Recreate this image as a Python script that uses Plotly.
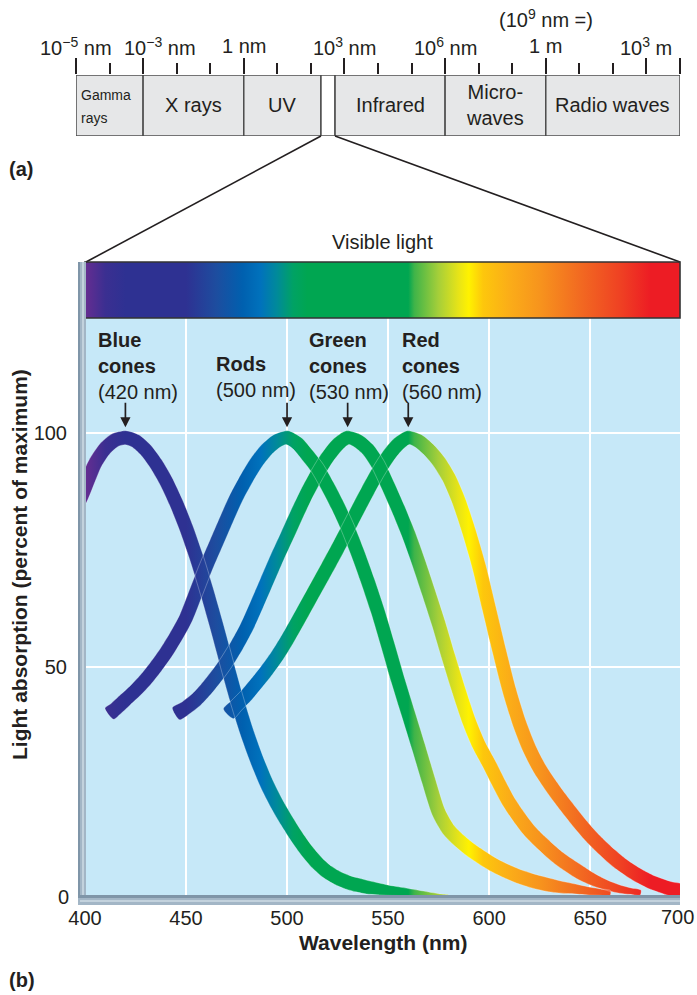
import plotly.graph_objects as go

FIG_W, FIG_H = 697, 995
INK = "#231f20"
FONT = "Liberation Sans, Arial, Helvetica, sans-serif"

# ---------------- data ----------------
# Electromagnetic spectrum strip (positions are log10 of wavelength in nm, as drawn)
em_band_names = ["Gamma rays", "X rays", "UV", "Visible", "Infrared", "Micro-<br>waves", "Radio waves"]
em_band_bounds = [-5, -3, 0, 2.3, 2.72, 6, 9, 13]
em_tick_exp = [-5, -3, 0, 3, 6, 9, 12, 13]
em_label_exp = [-5, -3, 0, 3, 6, 9, 12]
em_label_text = ["10<sup>−5</sup> nm", "10<sup>−3</sup> nm", "1 nm", "10<sup>3</sup> nm",
                 "10<sup>6</sup> nm", "1 m", "10<sup>3</sup> m"]

visible_range_nm = [400, 700]
spectrum_nm = [400, 410, 420, 450, 465, 478, 487, 495, 503, 510, 560, 563, 575, 585, 590,
               597, 610, 625, 645, 665, 680, 700]
spectrum_colors = ["#662d91", "#3b2f91", "#2e3192", "#2e3192", "#1d4d9f", "#0060af", "#0072bc",
                   "#008a9a", "#00a264", "#00a651", "#00a651", "#3fb449", "#a6cf39", "#e8e417",
                   "#fff200", "#fdc70c", "#fbad18", "#f7941d", "#f26a21", "#ef4123", "#ed1c24",
                   "#ed1c24"]

# Absorption curves (percent of maximum)
blue_nm = [400, 405, 410, 415, 420, 425, 430, 435, 440, 445, 450, 455, 460, 465, 470, 475, 480,
           485, 490, 495, 500, 505, 510, 515, 520, 525, 530, 535, 540, 545, 550, 555, 560, 565,
           570, 575, 580]
blue_abs = [88.5, 93.5, 96.7, 98.5, 99, 98.3, 96.4, 93.5, 89.8, 85.2, 79.8, 73.6, 66.6, 59, 51,
            43.2, 36.2, 30.2, 25, 20.7, 17, 13.6, 10.6, 8.1, 6.2, 4.9, 4, 3.4, 2.9, 2.6, 2.3, 2.1,
            1.9, 1.7, 1.5, 1.3, 1.2]

rods_nm = [412, 415, 420, 425, 430, 435, 440, 445, 450, 455, 460, 465, 470, 475, 480, 485, 490,
           495, 500, 505, 510, 515, 520, 525, 530, 535, 540, 545, 550, 555, 560, 565, 570, 575,
           580, 585, 590, 595, 600, 605, 610, 615, 620, 625, 630, 635, 640, 645, 650, 655, 660]
rods_abs = [40, 41, 43, 45, 47.3, 50, 53, 56.5, 60.5, 66, 71.5, 76.5, 81.5, 86.3, 90.3, 93.8, 96.5,
            98.3, 99, 97.8, 95.3, 92.5, 88.7, 84.5, 79.8, 74.3, 68.3, 61.8, 54.5, 47, 40, 33,
            25.8, 19, 15.2, 13, 11.2, 9.7, 8.3, 7.1, 6.1, 5.2, 4.5, 3.9, 3.4, 3, 2.7, 2.4, 2.1,
            1.9, 1.7]

green_nm = [445, 450, 455, 460, 465, 470, 475, 480, 485, 490, 495, 500, 505, 510, 515, 520, 525,
            530, 535, 540, 545, 550, 555, 560, 565, 570, 575, 580, 585, 590, 595, 600, 605, 610,
            615, 620, 625, 630, 635, 640, 645, 650, 655, 660, 665, 670, 675]
green_abs = [40, 41.3, 43, 45.3, 48, 51, 54.5, 58.5, 63.3, 68.3, 73.3, 78, 82.8, 87.3, 91.3, 94.8,
             97.5, 99, 98.3, 96.5, 93.3, 88.7, 83.8, 78.5, 72.5, 66, 59.3, 52, 45, 38.5, 33.3,
             29.3, 25, 21, 17.8, 15, 12.8, 10.8, 9, 7.5, 6.1, 4.9, 3.9, 3.1, 2.5, 2.1, 1.8]

red_nm = [471, 475, 480, 485, 490, 495, 500, 505, 510, 515, 520, 525, 530, 535, 540, 545, 550,
          555, 560, 565, 570, 575, 580, 585, 590, 595, 600, 605, 610, 615, 620, 625, 630, 635,
          640, 645, 650, 655, 660, 665, 670, 675, 680, 685, 690, 695]
red_abs = [40, 41.8, 44, 46.6, 49.3, 52.3, 55.8, 59.6, 63.5, 67.4, 71.3, 75.3, 79.4, 83.6, 87.7,
           91.6, 95, 97.6, 99, 98.3, 96.5, 94, 90.5, 85.5, 79, 71.5, 62.5, 53.5, 45, 38, 32.5,
           28.3, 25, 22, 19.2, 16.5, 14, 11.8, 9.8, 8, 6.5, 5.2, 4.1, 3.3, 2.6, 2.1]

peak_nm = [420, 500, 530, 560]
receptor_labels = ["<b>Blue</b><br><b>cones</b><br>(420 nm)", "<b>Rods</b><br>(500 nm)",
                   "<b>Green</b><br><b>cones</b><br>(530 nm)", "<b>Red</b><br><b>cones</b><br>(560 nm)"]

x_ticks = [400, 450, 500, 550, 600, 650]
x_last_tick = 700
y_ticks = [50, 100]
y_zero_tick = 0

# ---------------- style / layout ----------------
def px(x):
    return x / FIG_W


def py(y):
    return 1 - y / FIG_H


PLOT_L, PLOT_R, PLOT_T, PLOT_B = 85, 680, 318, 895
X_DOM = [px(PLOT_L), px(PLOT_R)]
X_RANGE = [400, 694.5]
Y_DOM = [py(PLOT_B), py(PLOT_T)]
Y_RANGE = [1.28, 124.57]
BAR_DOM = [py(318), py(262)]
EM_XDOM = [px(76), px(680)]
EM_YDOM = [py(136), py(75)]
EM_RANGE = [-5, 13]
HALF_W = 7.0  # half thickness of each absorption band, px

SX = (PLOT_R - PLOT_L) / (X_RANGE[1] - X_RANGE[0])
SY = (PLOT_B - PLOT_T) / (Y_RANGE[1] - Y_RANGE[0])

span = visible_range_nm[1] - visible_range_nm[0]
cscale = [[(n - visible_range_nm[0]) / span, c] for n, c in zip(spectrum_nm, spectrum_colors)]
gradient = dict(type="horizontal", colorscale=cscale, start=visible_range_nm[0], stop=visible_range_nm[1])

fig = go.Figure()

# spectrum bar
fig.add_trace(go.Scatter(
    x=[visible_range_nm[0], visible_range_nm[1], visible_range_nm[1], visible_range_nm[0], visible_range_nm[0]],
    y=[0, 0, 1, 1, 0], mode="lines", fill="toself", line=dict(width=0), fillgradient=gradient,
    xaxis="x2", yaxis="y2", hoverinfo="skip", showlegend=False))


def band_outline(nm, ab, taper=None):
    """Closed outline of a constant-thickness ribbon around the curve (thickness in screen px)."""
    P = [((n - X_RANGE[0]) * SX, a * SY) for n, a in zip(nm, ab)]
    N = len(P)
    up, lo = [], []
    for i in range(N):
        a, b = P[max(i - 1, 0)], P[min(i + 1, N - 1)]
        tx, ty = b[0] - a[0], b[1] - a[1]
        L = (tx * tx + ty * ty) ** 0.5
        nx, ny = -ty / L, tx / L
        h = HALF_W
        if taper is not None and nm[i] > taper[0]:
            f = (nm[i] - taper[0]) / (nm[-1] - taper[0])
            h = HALF_W + (taper[1] - HALF_W) * f
        if nm[i] <= X_RANGE[0]:
            # ribbon leaves through the plot's left edge: cut it vertically there
            nx, ny = 0.0, L / tx
        up.append((P[i][0] + h * nx, P[i][1] + h * ny))
        lo.append((P[i][0] - h * nx, P[i][1] - h * ny))
    ring = up + lo[::-1] + [up[0]]
    return [x / SX + X_RANGE[0] for x, _ in ring], [y / SY for _, y in ring]


curves = [(blue_nm, blue_abs, (538, 0.4)), (rods_nm, rods_abs, (628, 2.5)),
          (green_nm, green_abs, (645, 2.5)), (red_nm, red_abs, None)]
outlines = [band_outline(nm, ab, tp) for nm, ab, tp in curves]
for xs, ys in outlines:
    fig.add_trace(go.Scatter(x=xs, y=ys, mode="lines", fill="toself",
                             line=dict(width=0, shape="spline", smoothing=0.7),
                             fillgradient=gradient, hoverinfo="skip", showlegend=False))
for xs, ys in outlines:
    fig.add_trace(go.Scatter(x=xs, y=ys, mode="lines",
                             line=dict(width=0.8, color="rgba(255,255,255,0.35)", shape="spline", smoothing=0.7),
                             hoverinfo="skip", showlegend=False))

shapes = []
annotations = []

# EM spectrum boxes
for i, name in enumerate(em_band_names):
    shapes.append(dict(type="rect", xref="x3", yref="y3", x0=em_band_bounds[i], x1=em_band_bounds[i + 1],
                       y0=0, y1=1, fillcolor="white" if name == "Visible" else "#e6e7e8",
                       line=dict(color="#4d4d4d", width=1.5), layer="below"))
    mid = (em_band_bounds[i] + em_band_bounds[i + 1]) / 2
    if name == "Visible":
        continue
    if name == "Gamma rays":
        for k, word in enumerate(name.split(" ")):
            annotations.append(dict(text=word, xref="x3", yref="paper", x=em_band_bounds[i], xshift=3,
                                    y=py(95 + 23 * k), xanchor="left", yanchor="middle", showarrow=False,
                                    font=dict(size=14, family=FONT, color=INK)))
    else:
        annotations.append(dict(text=name, xref="x3", yref="paper", x=mid, y=py(104.5),
                                xanchor="center", yanchor="middle", showarrow=False,
                                font=dict(size=20, family=FONT, color=INK)))

for e, t in zip(em_label_exp, em_label_text):
    annotations.append(dict(text=t, xref="x3", yref="paper", x=e, y=py(46),
                            xshift=17 if e == -3 else 0, xanchor="center", yanchor="middle",
                            showarrow=False, font=dict(size=20, family=FONT, color=INK)))
annotations.append(dict(text="(10<sup>9</sup> nm =)", xref="x3", yref="paper", x=9, y=py(19),
                        xanchor="center", yanchor="middle", showarrow=False,
                        font=dict(size=20, family=FONT, color=INK)))


def em_to_paper(v):
    return EM_XDOM[0] + (v - EM_RANGE[0]) / (EM_RANGE[1] - EM_RANGE[0]) * (EM_XDOM[1] - EM_XDOM[0])


vis_i = em_band_names.index("Visible")
shapes.append(dict(type="line", xref="paper", yref="paper", x0=em_to_paper(em_band_bounds[vis_i]),
                   y0=EM_YDOM[0], x1=X_DOM[0] + px(1), y1=BAR_DOM[1], line=dict(color=INK, width=1.6)))
shapes.append(dict(type="line", xref="paper", yref="paper", x0=em_to_paper(em_band_bounds[vis_i + 1]),
                   y0=EM_YDOM[0], x1=X_DOM[1], y1=BAR_DOM[1], line=dict(color=INK, width=1.6)))

# bar border
shapes.append(dict(type="rect", xref="x2 domain", yref="y2 domain", x0=0, x1=1, y0=0, y1=1,
                   line=dict(color="#333333", width=1.6), fillcolor="rgba(0,0,0,0)", layer="above"))

# 3-D frame (left and bottom)
frame = [(78, 86, 262, 905, "#a3b6c6"), (78, 80, 262, 905, "#7f95a8"), (82, 84, 262, 905, "#c3d2dd"),
         (78, 680, 895, 905, "#a3b6c6"), (78, 680, 895, 898, "#7f95a8"), (80, 680, 900, 902, "#c3d2dd")]
for x0, x1, y0, y1, c in frame:
    shapes.append(dict(type="rect", xref="paper", yref="paper", x0=px(x0), x1=px(x1), y0=py(y1), y1=py(y0),
                       fillcolor=c, line=dict(width=0), layer="above"))

# receptor labels and arrows
label_left_nm = [405.5, 464, 510, 556]
label_mid_y = [114.3, 111.9, 114.3, 114.3]
for pk, lab, lx, ly in zip(peak_nm, receptor_labels, label_left_nm, label_mid_y):
    annotations.append(dict(text=lab, x=lx, y=ly, xref="x", yref="y", xanchor="left", yanchor="middle",
                            align="left", showarrow=False, font=dict(size=20, family=FONT, color=INK)))
    annotations.append(dict(text="", x=pk, y=101.2, xref="x", yref="y", showarrow=True, ax=0, ay=-26,
                            arrowhead=2, arrowsize=1.2, arrowwidth=1.7, arrowcolor=INK, standoff=0))

# titles / panel letters / end tick labels
annotations += [
    dict(text="Visible light", xref="paper", yref="paper", x=px(383), y=py(242), showarrow=False,
         xanchor="center", yanchor="middle", font=dict(size=20, family=FONT, color=INK)),
    dict(text="<b>(a)</b>", xref="paper", yref="paper", x=px(7), y=py(169), showarrow=False,
         xanchor="left", yanchor="middle", font=dict(size=20, family=FONT, color=INK)),
    dict(text="<b>(b)</b>", xref="paper", yref="paper", x=px(7), y=py(980), showarrow=False,
         xanchor="left", yanchor="middle", font=dict(size=20, family=FONT, color=INK)),
    dict(text="<b>Wavelength (nm)</b>", xref="paper", yref="paper", x=px(383), y=py(942), showarrow=False,
         xanchor="center", yanchor="middle", font=dict(size=21, family=FONT, color=INK)),
    dict(text="<b>Light absorption (percent of maximum)</b>", xref="paper", yref="paper", x=px(19),
         y=py(565), showarrow=False, textangle=-90, xanchor="center", yanchor="middle",
         font=dict(size=21, family=FONT, color=INK)),
    dict(text=str(x_last_tick), xref="paper", yref="paper", x=px(677), y=py(917), showarrow=False,
         xanchor="center", yanchor="middle", font=dict(size=20, family=FONT, color=INK)),
    dict(text=str(y_zero_tick), xref="paper", yref="paper", x=px(71), y=py(897), showarrow=False,
         xanchor="right", yanchor="middle", font=dict(size=20, family=FONT, color=INK)),
]

fig.update_layout(
    width=FIG_W, height=FIG_H, autosize=False,
    margin=dict(l=0, r=0, t=0, b=0, pad=0, autoexpand=False),
    paper_bgcolor="white", plot_bgcolor="#c6e8f8",
    showlegend=False,
    xaxis=dict(domain=X_DOM, range=X_RANGE, anchor="y", tickvals=x_ticks, ticktext=[str(v) for v in x_ticks],
               ticks="outside", ticklen=5, tickcolor="rgba(0,0,0,0)", automargin=False,
               tickfont=dict(size=20, family=FONT, color=INK), showgrid=True, gridcolor="white",
               gridwidth=2, zeroline=False, showline=False, fixedrange=True),
    yaxis=dict(domain=Y_DOM, range=Y_RANGE, anchor="x", tickvals=y_ticks, ticks="outside", ticklen=13,
               tickcolor="rgba(0,0,0,0)", tickfont=dict(size=20, family=FONT, color=INK), showgrid=True,
               automargin=False, gridcolor="white", gridwidth=2, zeroline=False, showline=False,
               fixedrange=True),
    xaxis2=dict(domain=X_DOM, range=X_RANGE, anchor="y2", visible=False, fixedrange=True, automargin=False),
    yaxis2=dict(domain=BAR_DOM, range=[0, 1], anchor="x2", visible=False, fixedrange=True, automargin=False),
    xaxis3=dict(domain=EM_XDOM, range=EM_RANGE, anchor="y3", side="top", ticks="outside",
                tickvals=em_tick_exp, ticklen=16, tickwidth=1.5, tickcolor=INK, showticklabels=False,
                showgrid=False, zeroline=False, showline=False, fixedrange=True, automargin=False,
                minor=dict(ticks="outside", tickmode="linear", tick0=-5, dtick=1, ticklen=11,
                           tickwidth=1.5, tickcolor=INK, showgrid=False)),
    yaxis3=dict(domain=EM_YDOM, range=[0, 1], anchor="x3", visible=False, fixedrange=True, automargin=False),
    shapes=shapes,
    annotations=annotations,
)

fig.write_html("out.html", config={"displayModeBar": False},
               post_script="document.body.style.margin='0';document.body.style.overflow='hidden';")
